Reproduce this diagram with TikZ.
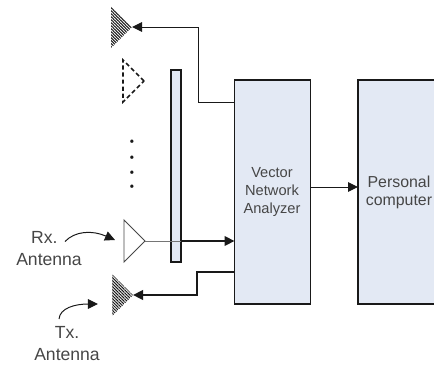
\documentclass[tikz,border=0pt]{standalone}
\usepackage{xcolor}
\usepackage{fontspec}
\setmainfont{Liberation Sans}
\usetikzlibrary{shapes.geometric,patterns.meta,arrows.meta}
\definecolor{boxc}{RGB}{227, 233, 244}
\definecolor{ink}{RGB}{25, 25, 25}
\definecolor{txt}{RGB}{70, 70, 70}
\tikzset{
  block/.style={draw=ink, line width=1.2pt, fill=boxc, inner sep=0pt, outer sep=0pt},
  ant/.style={isosceles triangle, isosceles triangle stretches, shape border rotate=0, anchor=apex,
    minimum width=42*0.025cm, minimum height=21*0.025cm, inner sep=0pt, outer sep=0pt},
  hatched/.style={pattern={Lines[angle=-45, distance=1.5pt, line width=0.75pt]}, pattern color=ink},
  label/.style={text=txt, align=center, inner sep=0pt, font=\fontsize{12.5}{16}\selectfont},
  wire/.style={color=ink, line width=0.7pt},
  bus/.style={color=ink, line width=1.3pt},
  tip/.style={-{Triangle[length=2.5mm,width=2.4mm]}}
}

\begin{document}
\begin{tikzpicture}[x=0.025cm, y=-0.025cm]
      \useasboundingbox (0, 0) rectangle (434, 368);
      \node[block, minimum width=10*0.025cm, minimum height=192*0.025cm] (bar) at (176, 166) {};
      \node[block, minimum width=76*0.025cm, minimum height=224*0.025cm] (vna) at (272.5, 192) {};
      \node[block, minimum width=80*0.025cm, minimum height=224*0.025cm] (pc) at (398, 192) {};
      \node[text=txt, align=center, inner sep=0pt, font=\fontsize{10.4}{12.8}\selectfont] (vnat) at (272, 191.5) {Vector\\Network\\Analyzer};
      \node[text=txt, align=center, inner sep=0pt, font=\fontsize{11.3}{12.8}\selectfont] (pct) at (399, 192) {Personal\\computer};
      % antennas
      \node[ant, hatched] (txa) at (132, 27) {};
      \node[ant, draw=ink, line width=1.1pt, dash pattern=on 3pt off 2pt] (dash) at (144, 81) {};
      \node[ant, draw=ink!80, line width=0.6pt] (rxa) at (145, 241) {};
      \node[ant, hatched] (txb) at (133, 295) {};
      \node[text=ink, font=\tiny, inner sep=0pt] (d1) at (132, 142) {$\bullet$};
      \node[text=ink, font=\tiny, inner sep=0pt] (d2) at (132, 158) {$\bullet$};
      \node[text=ink, font=\tiny, inner sep=0pt] (d3) at (132, 173) {$\bullet$};
      \node[text=ink, font=\tiny, inner sep=0pt] (d4) at (132, 187) {$\bullet$};
      % connectors
      \coordinate (c1) at (198, 102);
      \coordinate (c2) at (198, 27);
      \coordinate (c3) at (197, 272);
      \coordinate (c4) at (197, 295);
      \coordinate (c5) at (181, 241);
      \draw[wire, tip] (c1 -| vna.west) -- (c1) -- (c2) -- (txa.apex);
      \draw[bus, tip] (c3 -| vna.west) -- (c3) -- (c4) -- (txb.apex);
      \draw[wire, color=ink!60] (rxa.apex) -- (c5);
      \draw[bus, tip] (c5) -- (c5 -| vna.west);
      \draw[wire, tip] (vna.east |- 0, 187) -- (pc.west |- 0, 187);
      % antenna labels
      \node[label] (rxl) at (49, 248.5) {Rx.\kern 6.5pt\null\\Antenna};
      \node[label] (txl) at (67, 343.5) {Tx.\\Antenna};
      \coordinate (rxs) at (65, 241.5);
      \coordinate (rxe) at (115, 240);
      \coordinate (txs) at (59, 319);
      \coordinate (txe) at (98, 304);
      \draw[wire, tip] (rxs) .. controls (75, 231) and (92, 230) .. (rxe);
      \draw[wire, tip] (txs) .. controls (60, 308) and (75, 304) .. (txe);
    \end{tikzpicture}
\end{document}
